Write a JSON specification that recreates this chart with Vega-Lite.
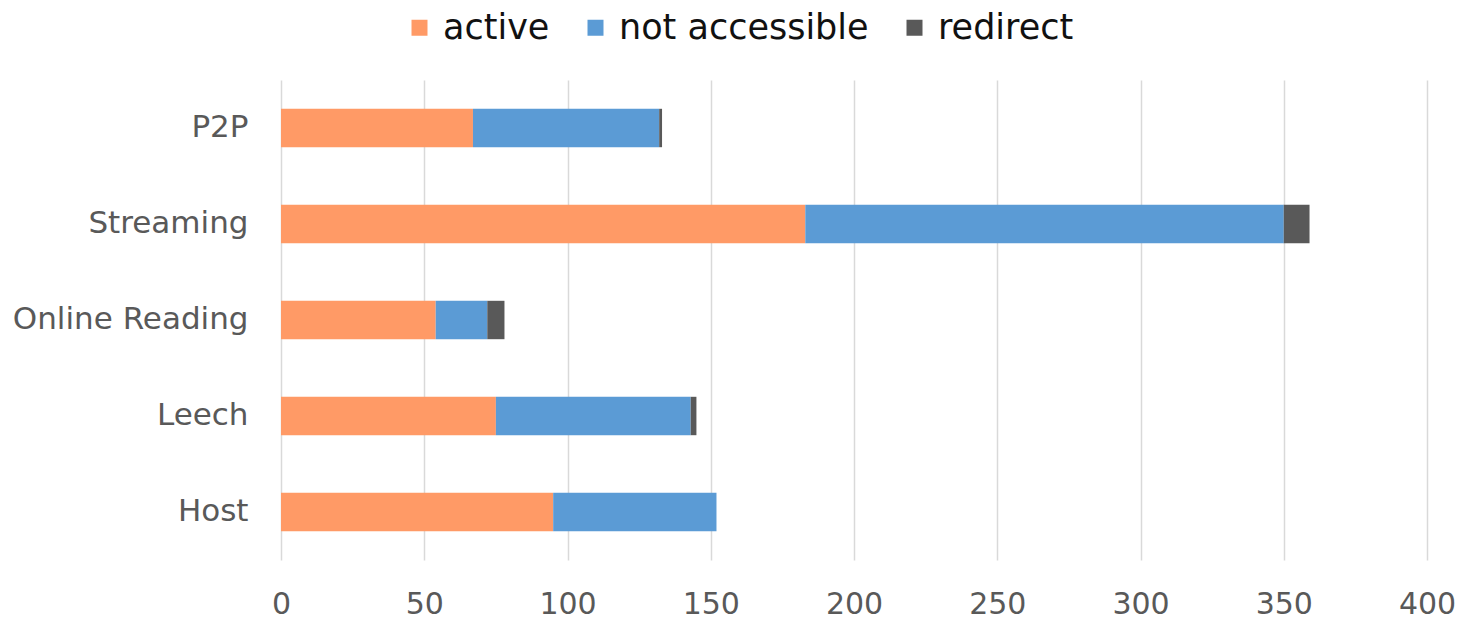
{
  "$schema": "https://vega.github.io/schema/vega-lite/v6.json",
  "autosize": "none",
  "width": 1146,
  "height": 480,
  "padding": {"left": 281, "top": 80, "right": 34, "bottom": 61},
  "background": "white",
  "data": {
    "values": [
      {"category": "P2P", "status": "active", "k": 1, "count": 67},
      {"category": "P2P", "status": "not accessible", "k": 2, "count": 65},
      {"category": "P2P", "status": "redirect", "k": 3, "count": 1},
      {"category": "Streaming", "status": "active", "k": 1, "count": 183},
      {"category": "Streaming", "status": "not accessible", "k": 2, "count": 167},
      {"category": "Streaming", "status": "redirect", "k": 3, "count": 9},
      {"category": "Online Reading", "status": "active", "k": 1, "count": 54},
      {"category": "Online Reading", "status": "not accessible", "k": 2, "count": 18},
      {"category": "Online Reading", "status": "redirect", "k": 3, "count": 6},
      {"category": "Leech", "status": "active", "k": 1, "count": 75},
      {"category": "Leech", "status": "not accessible", "k": 2, "count": 68},
      {"category": "Leech", "status": "redirect", "k": 3, "count": 2},
      {"category": "Host", "status": "active", "k": 1, "count": 95},
      {"category": "Host", "status": "not accessible", "k": 2, "count": 57},
      {"category": "Host", "status": "redirect", "k": 3, "count": 0}
    ]
  },
  "config": {
    "view": {"stroke": null},
    "font": "DejaVu Sans"
  },
  "mark": {"type": "bar"},
  "encoding": {
    "y": {
      "field": "category",
      "type": "nominal",
      "sort": ["P2P", "Streaming", "Online Reading", "Leech", "Host"],
      "scale": {"paddingInner": 0.6, "paddingOuter": 0.3},
      "axis": {
        "title": null,
        "domain": false,
        "ticks": false,
        "labelFontSize": 31,
        "labelColor": "#595959",
        "labelPadding": 33,
        "labelLimit": 400
      }
    },
    "x": {
      "field": "count",
      "type": "quantitative",
      "stack": "zero",
      "scale": {"domain": [0, 400], "nice": false},
      "axis": {
        "title": null,
        "values": [0, 50, 100, 150, 200, 250, 300, 350, 400],
        "domain": false,
        "ticks": false,
        "grid": true,
        "gridColor": "#D9D9D9",
        "gridWidth": 1.5,
        "labelFlush": false,
        "labelFontSize": 30,
        "labelColor": "#595959",
        "labelPadding": 29
      }
    },
    "order": {"field": "k", "type": "quantitative"},
    "color": {
      "field": "status",
      "type": "nominal",
      "scale": {
        "domain": ["active", "not accessible", "redirect"],
        "range": ["#FF9A66", "#5B9BD5", "#595959"]
      },
      "legend": {
        "title": null,
        "orient": "none",
        "direction": "horizontal",
        "legendX": 121,
        "legendY": -70,
        "symbolType": "square",
        "symbolSize": 256,
        "symbolStrokeWidth": 0,
        "labelFontSize": 35,
        "labelColor": "#111111",
        "labelOffset": 6,
        "columnPadding": 28,
        "labelLimit": 400
      }
    }
  }
}
